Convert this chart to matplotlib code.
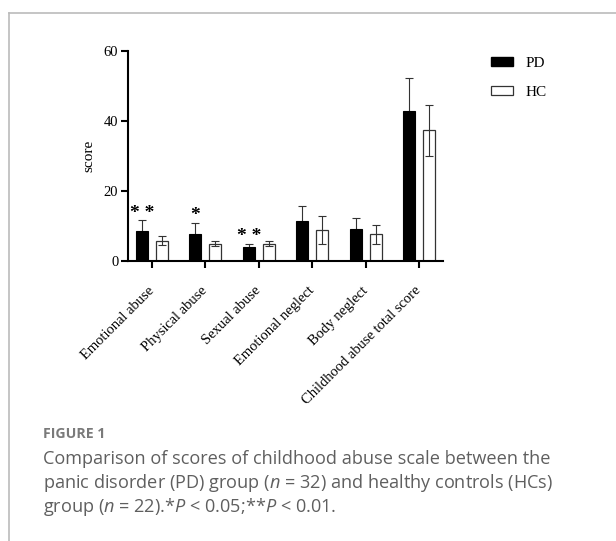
import numpy as np
import matplotlib.pyplot as plt
from matplotlib.lines import Line2D
from matplotlib.patches import Patch

categories = ["Emotional abuse", "Physical abuse", "Sexual abuse",
              "Emotional neglect", "Body neglect", "Childhood abuse total score"]
pd_mean = [8.6, 7.6, 4.1, 11.3, 9.1, 42.8]
pd_sd = [3.0, 3.4, 0.8, 4.5, 3.2, 9.6]
hc_mean = [5.8, 4.9, 4.9, 8.9, 7.6, 37.4]
hc_sd = [1.3, 0.7, 0.7, 3.9, 2.8, 7.3]
stars = ["**", "*", "**", "", "", ""]
yticks = [0, 20, 40, 60]

plt.rcParams["mathtext.fontset"] = "custom"
plt.rcParams["mathtext.rm"] = "Open Sans"
plt.rcParams["mathtext.it"] = "Open Sans:italic"

serif = "Liberation Serif"

fig = plt.figure(figsize=(6.16, 5.41), dpi=100)
ax = fig.add_axes([128/616, 1 - 261/541, 315/616, 210/541])

x = np.arange(len(categories))
off = 0.187
w = 0.225
ax.bar(x - off, pd_mean, w, color="black", edgecolor="black", linewidth=0.8, zorder=2)
ax.bar(x + off, hc_mean, w, color="white", edgecolor="#333333", linewidth=0.9, zorder=2)
ax.errorbar(x - off, pd_mean, yerr=pd_sd, fmt="none", ecolor="#333333",
            elinewidth=0.8, capsize=3, capthick=0.8, zorder=1)
ax.errorbar(x + off, hc_mean, yerr=hc_sd, fmt="none", ecolor="#333333",
            elinewidth=0.8, capsize=3, capthick=0.8, zorder=3)

for xi, m, s, st in zip(x, pd_mean, pd_sd, stars):
    if st:
        ax.text(xi - off, m + s + 2.0, " ".join(st), ha="center", va="center",
                fontsize=14, fontweight="bold", family=serif)

ax.set_xlim(-0.45, 5.45)
ax.set_ylim(0, 60)
ax.set_yticks(yticks)
ax.set_yticklabels([str(t) for t in yticks], family=serif, fontsize=10.5)
ax.set_xticks(x)
ax.set_xticklabels(categories, rotation=45, ha="right", va="center",
                   rotation_mode="anchor", family=serif, fontsize=10.5)
ax.set_ylabel("score", family=serif, fontsize=11, labelpad=6)
for sp in ["top", "right"]:
    ax.spines[sp].set_visible(False)
for sp in ["left", "bottom"]:
    ax.spines[sp].set_linewidth(1.5)
ax.tick_params(axis="y", width=1.5, length=5, pad=2)
ax.tick_params(axis="x", width=1.5, length=5, pad=15)

handles = [Patch(facecolor="black", edgecolor="black"),
           Patch(facecolor="white", edgecolor="#333333", linewidth=0.9)]
ax.legend(handles, ["PD", "HC"], loc="upper left", bbox_to_anchor=(491/616, 1 - 57/541),
          bbox_transform=fig.transFigure, frameon=False, borderpad=0, borderaxespad=0,
          handlelength=1.45, handleheight=0.45, handletextpad=0.8, labelspacing=1.05,
          prop={"family": serif, "size": 11})

# figure frame
fig.add_artist(Line2D([9/616, 9/616], [0, 1 - 13/541], color="#bbbbbb", lw=1.2))
fig.add_artist(Line2D([9/616, 1], [1 - 13/541, 1 - 13/541], color="#bbbbbb", lw=1.2))

fig.text(43/616, 1 - 434/541, "FIGURE 1", family="Open Sans", fontsize=10.2,
         fontweight="bold", color="#7a7a7a", va="center")
caption = [
    "Comparison of scores of childhood abuse scale between the",
    r"panic disorder (PD) group ($n$ = 32) and healthy controls (HCs)",
    r"group ($n$ = 22).*$P$ < 0.05;**$P$ < 0.01.",
]
for i, line in enumerate(caption):
    fig.text(43/616, 1 - (459 + 24 * i)/541, line, family="Open Sans", fontsize=13.1,
             color="#5f5f5f", va="center")

fig.savefig("out.png", dpi=100)
